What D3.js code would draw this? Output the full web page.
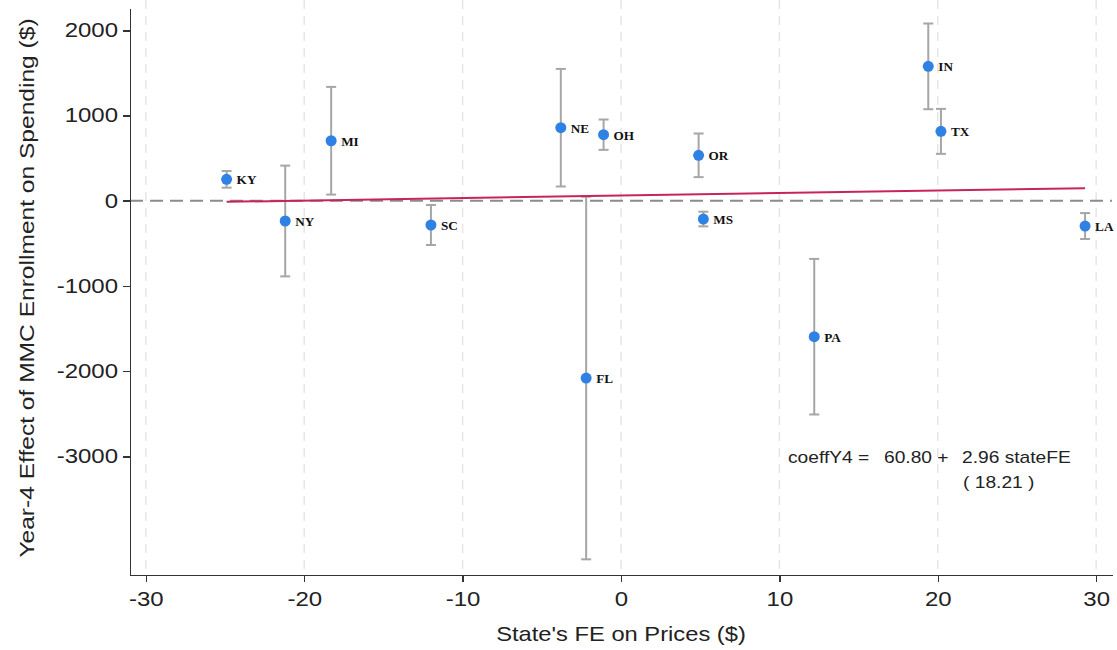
<!DOCTYPE html>
<html lang="en">
<head>
<meta charset="UTF-8">
<title>Year-4 effect vs state FE</title>
<script src="https://cdn.jsdelivr.net/npm/d3@7/dist/d3.min.js"></script>
<style>
    body { margin: 0; background: #fff; }
    .axis path, .axis line { stroke: #333; stroke-width: 1.5; shape-rendering: crispEdges; }
    .axis text { font-family: "Liberation Sans", Arial, sans-serif; font-size: 20px; fill: #222; }
</style>
</head>
<body>
<div id="output"></div>
<script>

var states   = ["KY", "NY", "MI", "SC", "NE", "OH", "FL", "OR", "MS", "PA", "IN", "TX", "LA"];
var stateFE  = [-24.9, -21.2, -18.3, -12.0, -3.8, -1.1, -2.2, 4.9, 5.2, 12.2, 19.4, 20.2, 29.3];
var coeffY4  = [251, -238, 704, -285, 857, 775, -2081, 533, -215, -1596, 1577, 814, -297];
var halfCI   = [98, 650, 632, 235, 690, 178, 2128, 256, 86, 913, 503, 264, 152];
var xTicks   = [-30, -20, -10, 0, 10, 20, 30];
var yTicks   = [2000, 1000, 0, -1000, -2000, -3000];
var fitIntercept = 60.80;
var fitSlope = 2.96;
var fitSE = 18.21;

var w = 1117;
var h = 650;
var plotLeft = 130, plotRight = 1112, plotTop = 8, plotBottom = 575;
var stretch = 1.2;   // reference text looks wider than it is tall

var svg = d3.select("#output")
            .append("svg")
            .attr("width", w)
            .attr("height", h);

var xScale = d3.scaleLinear().domain([-31.0, 31.0]).range([plotLeft, plotRight]);
var yScale = d3.scaleLinear().domain([-4393, 2262]).range([plotBottom, plotTop]);

var data = states.map(function(s, i) {
    return { state: s, x: stateFE[i], y: coeffY4[i], e: halfCI[i] };
});

function wideText(parent, x, y, str, sx) {
    return parent.append("text")
        .attr("transform", "translate(" + x + "," + y + ") scale(" + (sx || stretch) + ",1)")
        .text(str);
}

// vertical dashed grid
svg.append("g").selectAll("line")
    .data(xTicks)
    .enter()
    .append("line")
        .attr("x1", function(d){ return xScale(d); })
        .attr("x2", function(d){ return xScale(d); })
        .attr("y1", 0)
        .attr("y2", plotBottom)
        .attr("stroke", "#e6e6e6")
        .attr("stroke-width", 1.5)
        .attr("stroke-dasharray", "9,7");

// zero reference line
svg.append("line")
    .attr("x1", plotLeft)
    .attr("x2", plotRight)
    .attr("y1", yScale(0))
    .attr("y2", yScale(0))
    .attr("stroke", "#8c8c8c")
    .attr("stroke-width", 2)
    .attr("stroke-dasharray", "13,7");

// error bars
var bars = svg.append("g");
bars.selectAll("line.bar")
    .data(data)
    .enter()
    .append("line")
        .attr("class", "bar")
        .attr("x1", function(d){ return xScale(d.x); })
        .attr("x2", function(d){ return xScale(d.x); })
        .attr("y1", function(d){ return yScale(d.y + d.e); })
        .attr("y2", function(d){ return yScale(d.y - d.e); })
        .attr("stroke", "#a6a6a6")
        .attr("stroke-width", 2);

[1, -1].forEach(function(sign) {
    bars.selectAll("line.cap" + (sign > 0 ? "hi" : "lo"))
        .data(data)
        .enter()
        .append("line")
            .attr("class", "cap" + (sign > 0 ? "hi" : "lo"))
            .attr("x1", function(d){ return xScale(d.x) - 5; })
            .attr("x2", function(d){ return xScale(d.x) + 5; })
            .attr("y1", function(d){ return yScale(d.y + sign * d.e); })
            .attr("y2", function(d){ return yScale(d.y + sign * d.e); })
            .attr("stroke", "#a6a6a6")
            .attr("stroke-width", 2);
});

// fitted line
var xExt = d3.extent(stateFE);
svg.append("line")
    .attr("x1", xScale(xExt[0]))
    .attr("x2", xScale(xExt[1]))
    .attr("y1", yScale(fitIntercept + fitSlope * xExt[0]))
    .attr("y2", yScale(fitIntercept + fitSlope * xExt[1]))
    .attr("stroke", "#c8245c")
    .attr("stroke-width", 2);

// points
svg.append("g").selectAll("circle")
    .data(data)
    .enter()
    .append("circle")
        .attr("cx", function(d){ return xScale(d.x); })
        .attr("cy", function(d){ return yScale(d.y); })
        .attr("r", 5.5)
        .attr("fill", "#2f82e4");

var labels = svg.append("g")
    .style("font-family", "'Liberation Serif', 'Times New Roman', serif")
    .style("font-weight", "bold")
    .style("font-size", "12px")
    .attr("fill", "#111");
data.forEach(function(d) {
    wideText(labels, xScale(d.x) + 10, yScale(d.y) + 5, d.state, 1.1);
});

// axes
var xAxisGen = d3.axisBottom(xScale).tickValues(xTicks).tickSize(7).tickPadding(10).tickSizeOuter(0)
        .tickFormat(function(d){ return String(d); });
var yAxisGen = d3.axisLeft(yScale).tickValues(yTicks).tickSize(7).tickPadding(5).tickSizeOuter(0)
        .tickFormat(function(d){ return String(d); });

var xAxis = svg.append("g").call(xAxisGen)
    .attr("class", "axis")
    .attr("transform", "translate(0," + plotBottom + ")");
xAxis.selectAll("text").attr("transform", "scale(" + stretch + ",1)");

var yAxis = svg.append("g").call(yAxisGen)
    .attr("class", "axis")
    .attr("transform", "translate(" + plotLeft + ",0)");
yAxis.selectAll("text")
    .attr("x", -10)
    .attr("transform", "scale(" + stretch + ",1)");

// axis titles
var titles = svg.append("g")
    .style("font-family", "'Liberation Sans', Arial, sans-serif")
    .style("font-size", "21px")
    .attr("fill", "#222")
    .attr("text-anchor", "middle");

wideText(titles, 621, 641, "State's FE on Prices ($)", 1.13);

titles.append("text")
    .attr("transform", "translate(34,288) rotate(-90) scale(1.17,1)")
    .text("Year-4 Effect of MMC Enrollment on Spending ($)");

// regression annotation
var note = svg.append("g")
    .style("font-family", "'Liberation Sans', Arial, sans-serif")
    .style("font-size", "16px")
    .attr("fill", "#222");
wideText(note, 788, 463, "coeffY4 =");
wideText(note, 884, 463, fitIntercept.toFixed(2) + " +");
wideText(note, 962, 463, fitSlope.toFixed(2) + " stateFE");
wideText(note, 963, 488, "( " + fitSE.toFixed(2) + " )");

</script>
</body>
</html>
